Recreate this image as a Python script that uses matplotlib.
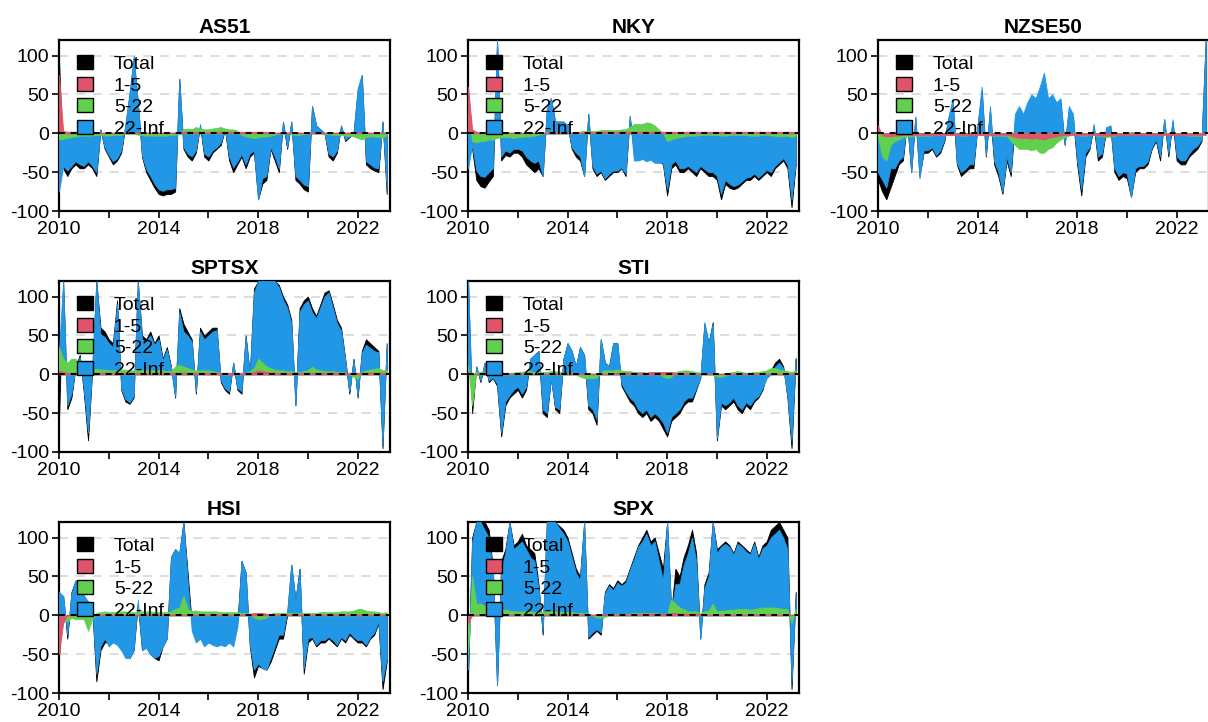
import numpy as np
import pandas as pd
import matplotlib
matplotlib.use("Agg")
import matplotlib.pyplot as plt
from matplotlib.patches import Patch

plt.rcParams["font.family"] = ["Liberation Sans", "DejaVu Sans"]
plt.rcParams["axes.unicode_minus"] = False

# bi-monthly observations, Jan 2010 .. Mar 2023
dates = pd.date_range("2010-01-01", periods=80, freq="2MS")

series_names = ["Total", "1-5", "5-22", "22-Inf"]
series_colors = ["#000000", "#DF536B", "#61D04F", "#2297E6"]

# ---------------- AS51
as51_total = [95, -45, -55, -45, -40, -45,
              -45, -40, -45, -55, 5, -20,
              -30, -40, -35, -25, 10, 50,
              95, 40, -30, -50, -60, -70,
              -78, -80, -78, -78, -75, 70,
              -20, -30, -35, -25, 10, -30,
              -35, -25, -20, -15, 5, -35,
              -50, -40, -30, -45, -30, -25,
              -85, -65, -60, -20, -35, -50,
              15, -20, 15, -60, -65, -72,
              -75, 35, 10, 5, 0, -30,
              -35, -25, 10, -10, -5, 0,
              55, 75, -40, -45, -48, -50,
              15, -78]
as51_red = [75, 3, 2, 2, 2, 2,
            2, 2, 2, 1, 1, 1,
            1, 1, 1, 1, 1, 1,
            1, 1, 1, 1, 1, 1,
            1, 1, 1, 1, 1, 1,
            2, 2, 2, 2, 1, 1,
            1, 1, 2, 2, 2, 2,
            2, 2, 2, 2, 2, 2,
            2, 2, 2, 1, 1, 1,
            1, 1, 1, 1, 1, 1,
            1, 1, 1, 1, 1, 1,
            1, 1, 1, 1, 1, 1,
            1, 1, 1, 1, 1, 1,
            1, 1]
as51_green = [-8, -7, -6, -5, -4, -3,
              -3, -3, -3, -2, -2, -3,
              -3, -2, -2, -2, 0, 0,
              0, -2, -2, -3, -3, -3,
              -3, -3, -3, -2, -2, 0,
              5, 6, 5, 8, 6, 5,
              5, 6, 7, 8, 6, 5,
              5, 3, -2, -4, -5, -6,
              -5, -4, -4, -3, -2, 0,
              0, 1, -1, -2, -2, -1,
              0, 1, 1, 0, -1, -1,
              -2, -2, -2, -3, -3, -4,
              -6, -8, -5, -4, -4, -5,
              -5, -3]
as51_blue = [-75, -42, -48, -42, -36, -40,
             -42, -36, -42, -50, 5, -18,
             -28, -36, -32, -22, 12, 52,
             100, 40, -28, -46, -55, -65,
             -72, -74, -72, -72, -70, 70,
             -18, -26, -30, -22, 12, -26,
             -30, -22, -18, -12, 6, -30,
             -44, -36, -27, -40, -26, -22,
             -85, -58, -55, -18, -30, -45,
             15, -18, 15, -55, -60, -66,
             -68, 35, 10, 5, 0, -26,
             -30, -22, 10, -8, -4, 0,
             58, 75, -36, -40, -44, -45,
             15, -70]

# ---------------- NKY
nky_total = [55, -20, -60, -68, -70, -62,
             -55, 120, -35, -28, -30, -25,
             -25, -30, -40, -45, -50, -45,
             -55, 30, 45, 15, 15, 15,
             10, -20, -30, -35, -55, 25,
             -45, -55, -50, -60, -55, -50,
             -50, -45, -55, 22, -25, -22,
             -20, -25, -22, -28, -35, -40,
             -80, -45, -40, -50, -50, -45,
             -50, -55, -45, -50, -55, -55,
             -60, -85, -65, -70, -72, -70,
             -65, -60, -60, -55, -60, -55,
             -50, -55, -45, -40, -35, -45,
             -95, -40]
nky_red = [60, 5, 2, 1, 1, 1,
           1, 1, 1, 1, 1, 1,
           1, 1, 1, 1, 1, 1,
           1, 1, 1, 1, 1, 1,
           1, 1, 1, 1, 1, 1,
           1, 1, 2, 2, 2, 2,
           2, 2, 2, 2, 2, 2,
           2, 2, 2, 2, 2, 2,
           2, 2, 2, 2, 2, 2,
           2, 2, 2, 2, 2, 2,
           2, 2, 2, 2, 2, 2,
           2, 2, 2, 2, 2, 2,
           2, 2, 2, 2, 2, 2,
           2, 2]
nky_green = [25, -10, -12, -10, -10, -8,
             -8, -6, -5, -5, -5, -6,
             -5, -5, -4, -4, -3, -2,
             0, 2, 2, 1, 0, 0,
             0, 1, 2, 2, 3, 3,
             3, 3, 4, 4, 4, 4,
             4, 5, 5, 8, 12, 12,
             12, 14, 13, 10, 5, 0,
             -10, -8, -6, -5, -4, -3,
             -3, -3, -2, -2, -2, -2,
             -2, -3, -3, -2, -2, -2,
             -2, -2, -3, -3, -3, -2,
             -2, -3, -3, -4, -4, -3,
             -5, -3]
nky_blue = [-45, -15, -48, -55, -56, -50,
            -45, 120, -30, -22, -25, -20,
            -20, -22, -30, -35, -38, -35,
            -55, 32, 45, 15, 15, 15,
            10, -18, -25, -30, -55, 25,
            -42, -52, -48, -58, -52, -48,
            -48, -44, -52, 22, -35, -35,
            -33, -36, -34, -38, -38, -38,
            -72, -40, -35, -45, -45, -42,
            -46, -50, -42, -46, -50, -50,
            -55, -78, -60, -65, -68, -66,
            -62, -57, -56, -52, -57, -52,
            -47, -50, -42, -37, -32, -40,
            -85, -36]

# ---------------- NZSE50
nzse50_total = [-60, -75, -85, -70, -55, -40,
                -35, 15, -50, 20, -55, -25,
                -25, -20, -30, -25, -10, 20,
                40, -40, -55, -50, -45, -45,
                10, 55, -30, 30, -40, -55,
                -78, -35, -55, 15, 20, 10,
                25, 35, 30, 45, 60, 30,
                35, 30, 40, -15, 30, 20,
                -40, -80, -30, -20, 10, -35,
                -30, 5, 10, -50, -60, -55,
                -58, -82, -50, -45, -45, -40,
                -20, -10, -35, 18, -30, 15,
                -35, -40, -40, -30, -25, -20,
                -10, 120]
nzse50_red = [10, -3, -4, -4, -3, -3,
              -2, -2, -2, -2, -2, -2,
              -2, -2, -2, -2, -2, -2,
              -2, -2, -2, -2, -2, -2,
              -2, -2, -2, -2, -2, -2,
              -2, -2, -3, -5, -6, -6,
              -6, -7, -6, -7, -8, -6,
              -5, -4, -3, -2, -2, -2,
              -2, -2, -2, -2, -2, -2,
              -3, -3, -3, -2, -2, -2,
              -2, -2, -2, -2, -2, -2,
              -2, -2, -2, -2, -2, -2,
              -2, -2, -2, -2, -2, -2,
              -2, -2]
nzse50_green = [-5, -30, -35, -15, -10, -8,
                -5, -4, -4, -3, -3, -3,
                -3, -3, -2, -2, -2, -2,
                -2, -2, -3, -3, -2, -2,
                -2, -2, -2, -3, -3, -3,
                -3, -3, -10, -15, -20, -20,
                -20, -22, -20, -25, -25, -20,
                -18, -12, -8, -5, -3, -2,
                -2, -3, -3, -2, -2, -3,
                -4, -5, -4, -3, -2, 0,
                1, 2, 1, 0, -1, -1,
                -1, 0, 1, 1, 0, -1,
                -1, -2, -2, -3, -3, -3,
                -3, 0]
nzse50_blue = [-50, -60, -70, -45, -45, -35,
               -30, 18, -50, 22, -58, -22,
               -22, -18, -28, -22, -8, 22,
               45, -38, -50, -46, -40, -40,
               10, 60, -28, 35, -36, -50,
               -75, -30, -50, 25, 35, 25,
               40, 50, 45, 60, 78, 45,
               50, 40, 45, -15, 35, 25,
               -35, -72, -25, -18, 12, -30,
               -26, 8, 10, -45, -55, -50,
               -52, -82, -45, -42, -42, -36,
               -18, -8, -30, 18, -26, 18,
               -30, -35, -35, -26, -20, -16,
               -8, 120]

# ---------------- SPTSX
sptsx_total = [-60, 120, -45, -30, 10, 25,
               -25, -85, 5, 120, 60, 55,
               45, 40, 95, -20, -35, -38,
               -30, 120, 50, 45, 55, 40,
               50, 20, 35, 10, -30, 85,
               65, 55, 45, -25, 60, 50,
               55, 60, 60, -10, -20, -25,
               15, -20, -25, 50, 0, 110,
               120, 120, 120, 120, 120, 115,
               100, 90, 70, -40, 85, 95,
               100, 85, 75, 90, 105, 108,
               90, 70, 60, 20, -25, 20,
               -30, 30, 45, 40, 35, 30,
               -95, 40]
sptsx_red = [5, 3, 2, 2, 2, 2,
             2, 2, 2, 2, 2, 2,
             2, 2, 2, 2, 2, 2,
             2, 2, 2, 2, 2, 2,
             2, 2, 2, 2, 2, 2,
             2, 2, 2, 2, 2, 2,
             2, 2, 2, 2, 2, 2,
             2, 2, 2, 2, 2, 3,
             5, 4, 3, 2, 2, 2,
             2, 2, 2, 2, 2, 2,
             2, 2, 2, 2, 2, 2,
             2, 2, 2, 2, 2, 2,
             2, 2, 2, 2, 2, 2,
             2, 2]
sptsx_green = [35, 20, 15, 20, 20, 10,
               8, 6, 6, 7, 6, 6,
               5, 5, 5, 6, 6, 5,
               5, 6, 6, 5, 5, 5,
               5, 5, 4, 4, 10, 12,
               10, 8, 6, 5, 5, 5,
               5, 4, 3, 2, 0, 0,
               0, 0, 0, 2, 4, 8,
               20, 15, 10, 8, 6, 5,
               5, 4, 4, 3, 3, 4,
               5, 10, 6, 5, 4, 4,
               4, 3, 3, 2, 0, -3,
               -6, 3, 5, 6, 7, 8,
               5, 6]
sptsx_blue = [30, 120, -40, -25, 10, 22,
              -20, -75, 8, 120, 52, 48,
              40, 35, 90, -18, -32, -36,
              -28, 120, 45, 42, 50, 38,
              45, 18, 32, 8, -28, 80,
              55, 50, 42, -22, 55, 45,
              50, 55, 57, -8, -18, -22,
              15, -18, -22, 48, 0, 105,
              120, 120, 120, 120, 120, 112,
              96, 86, 66, -40, 80, 90,
              95, 80, 72, 86, 100, 105,
              86, 66, 56, 18, -22, 18,
              -28, 28, 38, 34, 30, 28,
              -90, 38]

# ---------------- STI
sti_total = [120, -50, 10, -10, 15, -10,
             -5, -15, -80, -40, -30, -25,
             -20, -30, -20, 20, 25, 30,
             -50, -55, -5, -45, -50, 20,
             40, 30, 10, 35, 25, -45,
             -50, -65, 45, 15, 10, 40,
             40, -15, -25, -35, -40, -50,
             -55, -50, -60, -55, -60, -70,
             -80, -60, -55, -50, -40, -35,
             -35, -20, -5, 65, 40, 67,
             -85, -40, -45, -40, -35, -45,
             -50, -40, -45, -35, -30, -20,
             0, 5, 15, 20, 10, -30,
             -95, 20]
sti_red = [3, 1, 1, 1, 1, 1,
           1, 1, 1, 1, 1, 1,
           1, 1, 1, 1, 1, 1,
           1, 1, 1, 1, 1, 1,
           1, 1, 1, 1, 1, 1,
           1, 1, 1, 1, 1, 1,
           2, 2, 2, 2, 2, 2,
           2, 2, 3, 3, 3, 3,
           3, 3, 2, 2, 2, 2,
           1, 1, 1, 1, 1, 1,
           1, 1, 1, 1, 1, 1,
           1, 1, 1, 1, 1, 1,
           1, 1, 1, 1, 1, 1,
           1, 1]
sti_green = [12, -40, 3, 3, 3, 3,
             3, 3, 2, 2, 2, 2,
             3, 3, 4, 4, 3, 3,
             3, 3, 4, 4, 3, 2,
             2, 2, 0, -3, -5, -5,
             -5, -4, 3, 5, 5, 5,
             6, 5, 4, 4, 3, 3,
             3, 2, 2, 2, 3, -3,
             -5, -3, 3, 4, 5, 5,
             4, 3, 2, 2, 0, 0,
             -3, -3, -2, 2, 3, 4,
             3, 2, 2, 3, 3, 4,
             5, 8, 8, 6, 5, 4,
             3, 5]
sti_blue = [120, -35, 10, -8, 15, -8,
            -4, -12, -75, -35, -27, -20,
            -16, -25, -16, 20, 25, 30,
            -45, -50, -5, -42, -45, 20,
            40, 30, 10, 35, 25, -40,
            -45, -58, 45, 15, 10, 40,
            40, -12, -22, -30, -35, -45,
            -50, -45, -55, -50, -55, -62,
            -75, -55, -50, -45, -35, -30,
            -30, -18, -5, 67, 40, 65,
            -82, -36, -40, -36, -30, -40,
            -45, -36, -40, -32, -28, -18,
            -5, 0, 10, 15, 8, -28,
            -85, 22]

# ---------------- HSI
hsi_total = [-55, 25, -30, 30, 45, 35,
             25, 15, 10, -85, -45, -35,
             -35, -30, -30, -40, -50, -55,
             -45, 15, -45, -40, -50, -55,
             -58, -40, -30, 75, 85, 80,
             120, 55, -10, -20, -15, -25,
             -20, -25, -30, -25, -25, -20,
             -25, -10, 70, 55, -40, -80,
             -65, -68, -70, -60, -45, -30,
             -30, 0, 65, 20, 60, -75,
             -35, -30, -40, -35, -35, -30,
             -35, -40, -30, -35, -25, -30,
             -35, -35, -40, -30, -25, -10,
             -95, -60]
hsi_red = [-50, -10, 1, 1, 1, 1,
           1, 1, 1, 1, 1, 1,
           1, 1, 1, 1, 1, 1,
           1, 1, 1, 1, 1, 1,
           1, 1, 1, 1, 1, 1,
           1, 1, 1, 1, 1, 1,
           1, 1, 1, 1, 1, 1,
           1, 1, 1, 1, 2, 3,
           3, 3, 2, 1, 1, 1,
           1, 1, 1, 1, 1, 1,
           1, 1, 1, 1, 1, 1,
           1, 1, 1, 1, 1, 1,
           1, 1, 1, 1, 1, 1,
           1, 1]
hsi_green = [0, -5, -8, -3, -5, -5,
             -5, -20, -5, 3, 4, 5,
             4, 4, 4, 5, 5, 4,
             4, 4, 5, 5, 5, 4,
             4, 4, 4, 5, 8, 10,
             25, 8, 6, 6, 5, 5,
             5, 5, 5, 4, 4, 4,
             4, 4, 3, 3, 2, -3,
             -5, -4, -3, 2, 3, 3,
             3, 3, 3, 2, 3, 3,
             3, 3, 3, 4, 4, 4,
             4, 4, 5, 5, 5, 6,
             8, 8, 6, 5, 5, 4,
             3, 4]
hsi_blue = [30, 25, -25, 28, 45, 35,
            25, 18, 12, -75, -40, -30,
            -40, -35, -38, -45, -55, -55,
            -45, 20, -45, -42, -50, -55,
            -52, -40, -30, 75, 85, 80,
            120, 45, -20, -35, -30, -40,
            -35, -38, -40, -38, -40, -35,
            -40, -15, 70, 55, -38, -70,
            -62, -68, -70, -55, -40, -25,
            -25, 5, 65, 20, 58, -68,
            -30, -28, -38, -32, -32, -28,
            -32, -38, -28, -32, -22, -28,
            -32, -32, -38, -28, -22, -8,
            -85, -55]

# ---------------- SPX
spx_total = [-80, 100, 120, 120, 120, 110,
             60, -90, 70, 85, 120, 90,
             95, 105, 90, 85, 80, 40,
             -25, 120, 120, 120, 115, 110,
             100, 80, 60, 50, 120, -30,
             -25, -20, -25, 30, 40, 35,
             45, 40, 45, 60, 75, 90,
             100, 110, 95, 100, 80, 60,
             120, 5, 60, 50, 75, 90,
             110, 80, -30, 40, 55, 120,
             85, 90, 95, 90, 80, 95,
             90, 85, 80, 95, 75, 90,
             95, 110, 115, 120, 110, 100,
             -95, 30]
spx_red = [-10, 0, 1, 1, 1, 1,
           1, 1, 1, 1, 1, 1,
           1, 1, 1, 1, 1, 1,
           1, 1, 1, 1, 1, 1,
           1, 1, 1, 1, 1, 1,
           1, 1, 1, 1, 1, 1,
           1, 1, 1, 1, 1, 2,
           2, 2, 2, 2, 2, 2,
           2, 3, 3, 2, 2, 2,
           2, 2, 2, 1, 1, 1,
           1, 1, 1, 1, 1, 1,
           1, 1, 1, 1, 1, 1,
           1, 1, 1, 1, 1, 1,
           1, 1]
spx_green = [-50, 50, 15, 15, 12, 12,
             8, 15, 8, 7, 6, 5,
             5, 5, 5, 5, 4, 4,
             4, 5, 5, 5, 4, 4,
             4, 4, 3, 3, 3, 2,
             0, -3, -3, -2, 0, 1,
             2, 2, 2, 2, 3, 3,
             3, 3, 3, 3, 2, 2,
             2, 20, 15, 10, 8, 5,
             5, 5, 3, 5, 6, 15,
             5, 6, 6, 7, 7, 8,
             8, 8, 7, 8, 9, 10,
             10, 10, 10, 9, 8, 8,
             -10, 8]
spx_blue = [-70, 95, 120, 120, 110, 100,
            55, -90, 60, 80, 120, 85,
            90, 95, 85, 75, 70, 35,
            -20, 120, 120, 120, 112, 105,
            95, 75, 55, 45, 120, -28,
            -22, -18, -22, 28, 38, 32,
            42, 38, 42, 58, 72, 88,
            95, 105, 90, 95, 70, 45,
            120, 5, 40, 40, 65, 80,
            100, 70, -30, 35, 50, 120,
            80, 88, 92, 88, 78, 92,
            88, 82, 78, 92, 72, 86,
            90, 100, 105, 110, 100, 85,
            -85, 25]

panels = [
    ("AS51", as51_total, as51_red, as51_green, as51_blue),
    ("NKY", nky_total, nky_red, nky_green, nky_blue),
    ("NZSE50", nzse50_total, nzse50_red, nzse50_green, nzse50_blue),
    ("SPTSX", sptsx_total, sptsx_red, sptsx_green, sptsx_blue),
    ("STI", sti_total, sti_red, sti_green, sti_blue),
    ("HSI", hsi_total, hsi_red, hsi_green, hsi_blue),
    ("SPX", spx_total, spx_red, spx_green, spx_blue),
]
# grid slot (row, col) of each panel
slots = [(0, 0), (0, 1), (0, 2), (1, 0), (1, 1), (2, 0), (2, 1)]


def draw_panel(ax, name, total, red, green, blue):
    x = dates.year + (dates.month - 1) / 12.0
    # total behind, long horizon, then shorter horizons on top
    for vals, col, z in [(total, series_colors[0], 2),
                         (blue, series_colors[3], 3),
                         (green, series_colors[2], 4),
                         (red, series_colors[1], 5)]:
        ax.fill_between(x, 0, vals, facecolor=col, edgecolor=col,
                        linewidth=0.6, zorder=z)
    for yv in (-50, 50, 100):
        ax.axhline(yv, color="#d3d3d3", lw=1.1, ls=(0, (6, 5)), zorder=1)
    ax.axhline(0, color="black", lw=1.4, ls=(0, (3, 3)), zorder=6)

    ax.set_xlim(2010, 2023.3)
    ax.set_ylim(-100, 120)
    ax.set_yticks([-100, -50, 0, 50, 100])
    ax.set_yticklabels(["-100", "-50", "0", "50", "100"])
    ax.set_xticks(range(2010, 2023, 2))
    ax.set_xticklabels(["2010", "", "2014", "", "2018", "", "2022"])
    ax.tick_params(direction="out", length=5, width=1.2, labelsize=14,
                   pad=2, colors="black")
    for sp in ax.spines.values():
        sp.set_linewidth(1.6)
    ax.set_title(name, fontsize=15, fontweight="bold", pad=5)

    handles = [Patch(facecolor=c, edgecolor="black", linewidth=1.0)
               for c in series_colors]
    leg = ax.legend(handles, series_names, loc="upper left",
                    bbox_to_anchor=(0.054, 0.91), frameon=False,
                    fontsize=14, handlelength=0.85, handleheight=0.7,
                    handletextpad=1.05, labelspacing=0.2,
                    borderpad=0, borderaxespad=0)
    leg.set_zorder(7)


def main():
    fig = plt.figure(figsize=(12.08, 7.22), dpi=100)
    lefts = [59 / 1208, 468 / 1208, 878 / 1208]
    bottoms = [511 / 722, 270 / 722, 29 / 722]
    w, h = 331 / 1208, 171 / 722
    for (name, total, red, green, blue), (r, c) in zip(panels, slots):
        ax = fig.add_axes([lefts[c], bottoms[r], w, h])
        draw_panel(ax, name, total, red, green, blue)
    fig.savefig("out.png", dpi=100, facecolor="white")


if __name__ == "__main__":
    main()
